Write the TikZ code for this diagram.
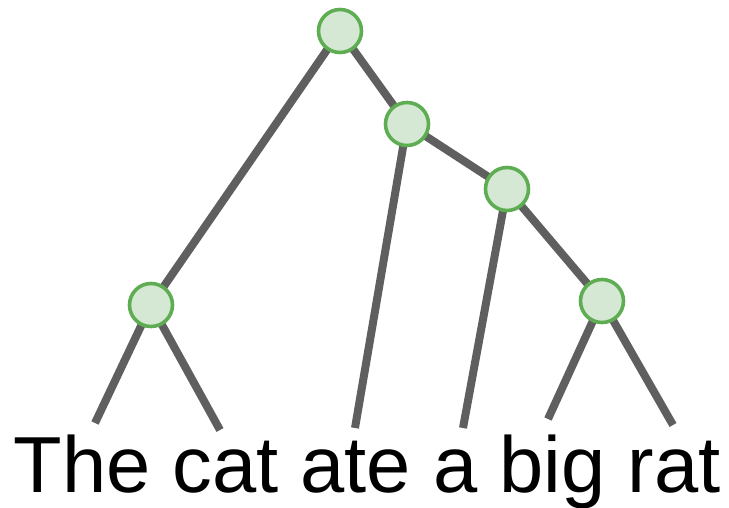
\documentclass[tikz,border=0pt]{standalone}
\usepackage{fontspec}
\setmainfont{Liberation Sans}
\definecolor{edgegray}{HTML}{5F5F5F}
\definecolor{nodefill}{HTML}{D5E8D4}
\definecolor{nodedraw}{HTML}{5FAD53}
\begin{document}
\begin{tikzpicture}[x=1pt,y=-1pt,
  treenode/.style={circle,draw=nodedraw,fill=nodefill,line width=3.6pt,minimum size=43pt,inner sep=0pt},
  edge/.style={draw=edgegray,line width=8pt}]
\useasboundingbox (0,0) rectangle (729,508);
% free ends
\coordinate (w1) at (95,423);
\coordinate (w2) at (220,430);
\coordinate (w3) at (355,428);
\coordinate (w4) at (463,428);
\coordinate (w5) at (548,419);
\coordinate (w6) at (673,425);
\coordinate (cr) at (340,31);
\coordinate (c2) at (407,124);
\coordinate (c3) at (507,189);
\coordinate (cl) at (151,305);
\coordinate (c5) at (602,301);
\path[edge] (cr) -- (cl);
\path[edge] (cr) -- (c2);
\path[edge] (c2) -- (c3);
\path[edge] (c2) -- (w3);
\path[edge] (c3) -- (c5);
\path[edge] (c3) -- (w4);
\path[edge] (cl) -- (w1);
\path[edge] (cl) -- (w2);
\path[edge] (c5) -- (w5);
\path[edge] (c5) -- (w6);
\node[treenode] (root) at (cr) {};
\node[treenode] (n2) at (c2) {};
\node[treenode] (n3) at (c3) {};
\node[treenode] (nl) at (cl) {};
\node[treenode] (n5) at (c5) {};
\node[anchor=base,inner sep=0pt] (sent) at (367,492) {\fontsize{79.5}{96}\selectfont The cat ate a big rat};
\end{tikzpicture}
\end{document}
